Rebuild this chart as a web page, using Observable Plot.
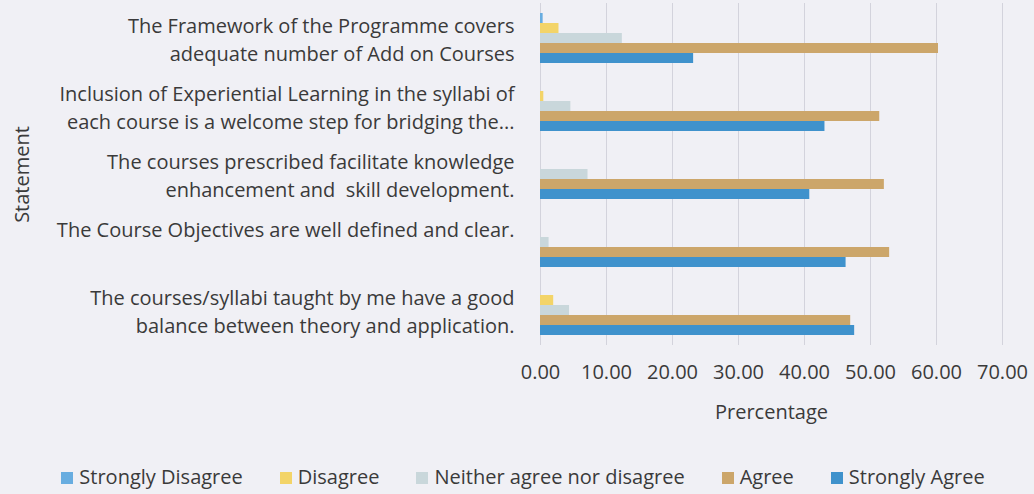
<!DOCTYPE html>
<html>
<head>
<meta charset="utf-8">
<script src="https://cdn.jsdelivr.net/npm/d3@7"></script>
<script src="https://cdn.jsdelivr.net/npm/@observablehq/plot@0.6"></script>
<style>
  html, body { margin: 0; padding: 0; background: #f0f0f5; }
  body { width: 1034px; height: 494px; overflow: hidden; font-family: "Open Sans", sans-serif; color: #3a3a3a; }
  #legend { display: flex; justify-content: center; gap: 37px; font-size: 20px; padding-top: 13px; margin-left: 12px; }
  #legend .item { display: flex; align-items: center; }
  #legend .sw { width: 12px; height: 12px; margin-right: 6px; margin-top: 3px; }
</style>
</head>
<body>
<div id="chart"></div>
<div id="legend"></div>
<script>
const statements = [
  "The Framework of the Programme covers\nadequate number of Add on Courses",
  "Inclusion of Experiential Learning in the syllabi of\neach course is a welcome step for bridging the...",
  "The courses prescribed facilitate knowledge\nenhancement and  skill development.",
  "The Course Objectives are well defined and clear.\n ",
  "The courses/syllabi taught by me have a good\nbalance between theory and application."
];
const seriesNames = ["Strongly Disagree", "Disagree", "Neither agree nor disagree", "Agree", "Strongly Agree"];
const seriesColors = ["#68ade0", "#f3d468", "#c9d7db", "#cca66a", "#3f92cc"];
const stronglyDisagree = [0.4, 0, 0, 0, 0];
const disagree = [2.8, 0.5, 0, 0, 2.0];
const neither = [12.4, 4.6, 7.2, 1.3, 4.4];
const agree = [60.3, 51.4, 52.1, 52.9, 47.0];
const stronglyAgree = [23.2, 43.1, 40.8, 46.3, 47.6];
const xTicks = [0, 10, 20, 30, 40, 50, 60, 70];

const seriesValues = [stronglyDisagree, disagree, neither, agree, stronglyAgree];
const table = [];
statements.forEach((s, i) => {
  seriesNames.forEach((n, j) => table.push({statement: s, series: n, value: seriesValues[j][i]}));
});

const chart = Plot.plot({
  width: 1034,
  height: 450,
  marginLeft: 540,
  marginRight: 32,
  marginTop: 4,
  marginBottom: 106,
  style: {background: "transparent", fontFamily: "Open Sans, sans-serif", color: "#3a3a3a"},
  x: {domain: [0, 70], axis: null},
  y: {domain: seriesNames, padding: 0, axis: null},
  fy: {domain: statements, paddingInner: 0.26, paddingOuter: 0.13, axis: null},
  color: {domain: seriesNames, range: seriesColors},
  marks: [
    Plot.gridX(xTicks, {stroke: "#d3d3dc", strokeOpacity: 1, insetTop: -10, insetBottom: -10}),
    Plot.barX(table, {fy: "statement", y: "series", x: "value", fill: "series"}),
    Plot.axisX(xTicks, {
      anchor: "bottom", tickSize: 0, tickPadding: 29, fontSize: 20,
      tickFormat: d => d.toFixed(2),
      label: "Prercentage", labelAnchor: "center", labelArrow: "none", labelOffset: 83
    }),
    Plot.axisFy({
      anchor: "left", tickSize: 0, tickPadding: 26, fontSize: 20, lineHeight: 1.4,
      label: "Statement", labelAnchor: "center", labelArrow: "none", labelOffset: 526
    })
  ]
});
document.getElementById("chart").appendChild(chart);

const legend = document.getElementById("legend");
seriesNames.forEach((n, i) => {
  const item = document.createElement("div");
  item.className = "item";
  const sw = document.createElement("span");
  sw.className = "sw";
  sw.style.background = seriesColors[i];
  const t = document.createElement("span");
  t.textContent = n;
  item.appendChild(sw);
  item.appendChild(t);
  legend.appendChild(item);
});
</script>
</body>
</html>
